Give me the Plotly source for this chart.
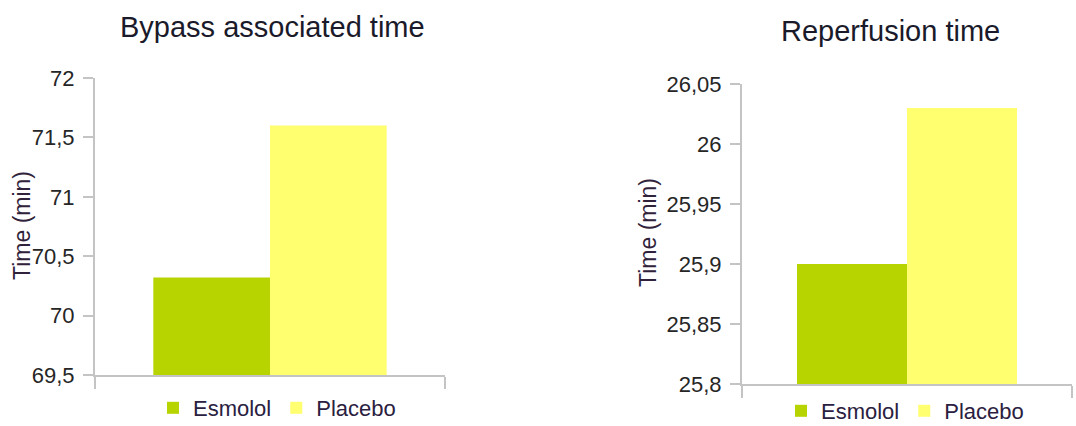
import plotly.graph_objects as go

groups = ["Esmolol", "Placebo"]
colors = ["#b7d400", "#ffff70"]

bypass_values = [70.32, 71.6]
reperf_values = [25.9, 26.03]

bypass_ticks = [69.5, 70, 70.5, 71, 71.5, 72]
bypass_ticktext = ["69,5", "70", "70,5", "71", "71,5", "72"]
reperf_ticks = [25.8, 25.85, 25.9, 25.95, 26.0, 26.05]
reperf_ticktext = ["25,8", "25,85", "25,9", "25,95", "26", "26,05"]

titles = ["Bypass associated time", "Reperfusion time"]
ytitle = "Time (min)"

FONT = "Liberation Sans, Arial, sans-serif"
TXT = "#262626"
AX = "#c4c4c4"

fig = go.Figure()
for i, (g, c) in enumerate(zip(groups, colors)):
    fig.add_trace(go.Bar(x=[0], y=[bypass_values[i] - 69.5], base=69.5, name=g,
                         marker=dict(color=c, line=dict(width=0)),
                         xaxis="x", yaxis="y", legend="legend", offsetgroup=str(i)))
for i, (g, c) in enumerate(zip(groups, colors)):
    fig.add_trace(go.Bar(x=[0], y=[reperf_values[i] - 25.8], base=25.8, name=g,
                         marker=dict(color=c, line=dict(width=0)),
                         xaxis="x2", yaxis="y2", legend="legend2", offsetgroup=str(i)))

W, H = 1076, 426
def px_x(a, b):
    return [a / W, b / W]
def px_y(top, bottom):
    return [1 - bottom / H, 1 - top / H]

xcommon = dict(range=[-0.5, 0.5], showline=True, linecolor=AX, linewidth=2,
               tickmode="array", tickvals=[-0.5, 0.5], ticktext=["", ""],
               ticks="outside", ticklen=12, tickcolor=AX, tickwidth=2,
               showgrid=False, zeroline=False, fixedrange=True, automargin=False)
ycommon = dict(showline=True, linecolor=AX, linewidth=2, ticks="outside",
               ticklen=10, tickcolor=AX, tickwidth=2, showgrid=False, zeroline=False,
               tickfont=dict(family=FONT, size=22, color=TXT), automargin=False,
               ticklabelstandoff=4)

legend_common = dict(orientation="h", xref="container", yref="container",
                     xanchor="left", yanchor="middle",
                     font=dict(family=FONT, size=22, color="#2a2040"), itemwidth=30,
                     bgcolor="rgba(0,0,0,0)", tracegroupgap=0)

def ytitle_ann(xc, yc):
    return dict(text=ytitle, x=xc / W, y=1 - yc / H, xref="paper", yref="paper",
                showarrow=False, xanchor="center", yanchor="middle", textangle=-90,
                font=dict(family=FONT, size=23, color="#30223a"))

fig.update_layout(
    width=W, height=H, margin=dict(l=0, r=0, t=0, b=0, autoexpand=False),
    paper_bgcolor="white", plot_bgcolor="white",
    barmode="group", bargap=1/3, bargroupgap=0,
    xaxis=dict(domain=px_x(95, 445), anchor="y", **xcommon),
    yaxis=dict(domain=px_y(78, 375), anchor="x", range=[69.5, 72],
               tickvals=bypass_ticks, ticktext=bypass_ticktext, **ycommon),
    xaxis2=dict(domain=px_x(742, 1072), anchor="y2", **xcommon),
    yaxis2=dict(domain=px_y(84, 384), anchor="x2", range=[25.8, 26.05],
                tickvals=reperf_ticks, ticktext=reperf_ticktext, **ycommon),
    legend=dict(x=153 / W, y=1 - 408 / H, **legend_common),
    legend2=dict(x=781 / W, y=1 - 411 / H, **legend_common),
    annotations=[
        dict(text=titles[0], x=272 / W, y=1 - 27 / H, xref="paper", yref="paper",
             showarrow=False, xanchor="center", yanchor="middle",
             font=dict(family=FONT, size=29, color="#1a1a2a")),
        dict(text=titles[1], x=890 / W, y=1 - 31 / H, xref="paper", yref="paper",
             showarrow=False, xanchor="center", yanchor="middle",
             font=dict(family=FONT, size=29, color="#1a1a2a")),
        ytitle_ann(22, 226),
        ytitle_ann(648, 233),
    ],
)

fig.write_html("out.html")
